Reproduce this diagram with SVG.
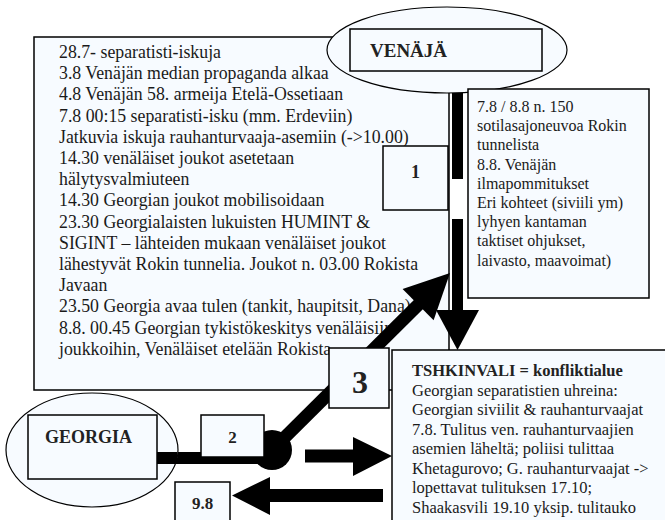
<svg xmlns="http://www.w3.org/2000/svg" width="665" height="520" viewBox="0 0 665 520">
<style>
.box{fill:#f7fbff;stroke:#000;stroke-width:1.5}
.ell{fill:#f7fbff;stroke:#000;stroke-width:1.2}
.t{font-family:"Liberation Serif","Times New Roman",serif;fill:#1a1a1a}
.b{font-family:"Liberation Serif","Times New Roman",serif;font-weight:bold;fill:#222}
.blk{fill:#000;stroke:none}
</style>
<rect x="0" y="0" width="665" height="520" fill="#fff"/>
<g id="events">
<rect class="box" x="34" y="37" width="415" height="353"/>
<text class="t" font-size="17.8">
<tspan x="59" y="58">28.7- separatisti-iskuja</tspan>
<tspan x="59" y="79.2">3.8 Venäjän median propaganda alkaa</tspan>
<tspan x="59" y="100.4">4.8 Venäjän 58. armeija Etelä-Ossetiaan</tspan>
<tspan x="59" y="121.6">7.8 00:15 separatisti-isku (mm. Erdeviin)</tspan>
<tspan x="59" y="142.8">Jatkuvia iskuja rauhanturvaaja-asemiin (-&gt;10.00)</tspan>
<tspan x="59" y="164">14.30 venäläiset joukot asetetaan</tspan>
<tspan x="59" y="185.2"> hälytysvalmiuteen</tspan>
<tspan x="59" y="206.4">14.30 Georgian joukot mobilisoidaan</tspan>
<tspan x="59" y="227.6">23.30 Georgialaisten lukuisten HUMINT &amp;</tspan>
<tspan x="59" y="248.8">SIGINT – lähteiden mukaan venäläiset joukot</tspan>
<tspan x="59" y="270">lähestyvät Rokin tunnelia. Joukot n. 03.00 Rokista</tspan>
<tspan x="59" y="291.2">Javaan</tspan>
<tspan x="59" y="312.4">23.50 Georgia avaa tulen (tankit, haupitsit, Dana)</tspan>
<tspan x="59" y="333.6">8.8. 00.45 Georgian tykistökeskitys venäläisiin</tspan>
<tspan x="59" y="354.8">joukkoihin, Venäläiset etelään Rokista</tspan>
</text>
</g>
<g id="venaja">
<ellipse class="ell" cx="447" cy="50" rx="120" ry="43"/>
<rect class="box" x="350" y="29" width="192" height="42"/>
<text class="b" font-size="19" x="370" y="57">VENÄJÄ</text>
</g>
<g id="russia-info">
<rect class="box" x="468" y="89" width="181" height="209"/>
<text class="t" font-size="16">
<tspan x="477" y="112">7.8 / 8.8 n. 150</tspan>
<tspan x="477" y="131.2">sotilasajoneuvoa Rokin</tspan>
<tspan x="477" y="150.4">tunnelista</tspan>
<tspan x="477" y="169.6">8.8. Venäjän</tspan>
<tspan x="477" y="188.8">ilmapommitukset</tspan>
<tspan x="477" y="208">Eri kohteet (siviili ym)</tspan>
<tspan x="477" y="227.2">lyhyen kantaman</tspan>
<tspan x="477" y="246.4">taktiset ohjukset,</tspan>
<tspan x="477" y="265.6">laivasto, maavoimat)</tspan>
</text>
</g>
<g id="connectors">
<rect class="blk" x="452" y="93" width="11" height="86"/>
<rect class="blk" x="452" y="219" width="11" height="92"/>
<polygon class="blk" points="436,310 479,310 457.5,350"/>
<line x1="272" y1="450" x2="419" y2="304" stroke="#000" stroke-width="13"/>
<polygon class="blk" points="450,273 433.6,320.3 402.6,289.1"/>
<rect class="blk" x="157" y="452" width="115" height="12"/>
<circle class="blk" cx="272" cy="450" r="20"/>
<polygon class="blk" points="305,449.5 353,449.5 353,437 392,456 353,476 353,462.5 305,462.5"/>
<polygon class="blk" points="383,489 270,489 270,477 232,495.5 270,515 270,502 383,502"/>
</g>
<g id="label1">
<rect class="box" x="383" y="146" width="65" height="64"/>
<text class="b" font-size="18" x="415.5" y="178" text-anchor="middle">1</text>
</g>
<g id="label3">
<rect class="box" x="329" y="348" width="60" height="60"/>
<text class="b" font-size="32" x="360" y="393" text-anchor="middle">3</text>
</g>
<g id="tshkinvali">
<rect class="box" x="392" y="350" width="290" height="190"/>
<text class="t" font-size="16.5">
<tspan class="b" x="412" y="376">TSHKINVALI = konfliktialue</tspan>
<tspan x="412" y="395.5">Georgian separatistien uhreina:</tspan>
<tspan x="412" y="415">Georgian siviilit &amp; rauhanturvaajat</tspan>
<tspan x="412" y="434.5">7.8. Tulitus ven. rauhanturvaajien</tspan>
<tspan x="412" y="454">asemien läheltä; poliisi tulittaa</tspan>
<tspan x="412" y="473.5">Khetagurovo; G. rauhanturvaajat -&gt;</tspan>
<tspan x="412" y="493">lopettavat tulituksen 17.10;</tspan>
<tspan x="412" y="512.5">Shaakasvili 19.10 yksip. tulitauko</tspan>
</text>
</g>
<g id="georgia">
<ellipse class="ell" cx="92" cy="450" rx="86" ry="57"/>
<rect class="box" x="28" y="415" width="129" height="64"/>
<text class="b" font-size="18" x="45" y="443">GEORGIA</text>
<rect class="blk" x="157" y="452" width="20" height="12"/>
</g>
<g id="label2">
<rect class="box" x="201" y="415" width="63" height="42"/>
<text class="b" font-size="17" x="232.5" y="443" text-anchor="middle">2</text>
</g>
<g id="label98">
<rect class="box" x="175" y="482" width="55" height="45"/>
<text class="b" font-size="17" x="202.5" y="509" text-anchor="middle">9.8</text>
</g>
</svg>
